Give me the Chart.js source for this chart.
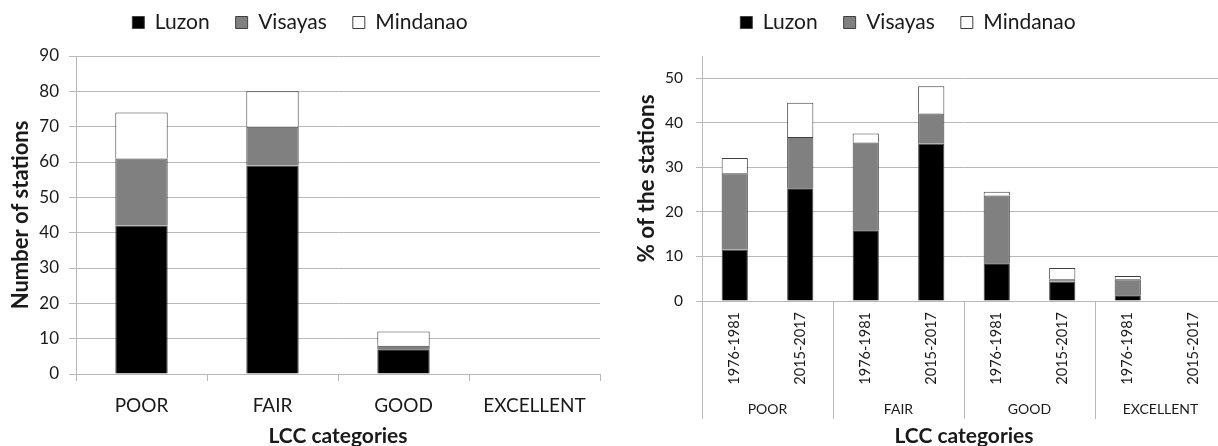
<!DOCTYPE html>
<html>
<head>
<meta charset="utf-8">
<script src="https://cdn.jsdelivr.net/npm/chart.js@4.4.1/dist/chart.umd.min.js"></script>
<style>
    html, body { margin: 0; padding: 0; background: #fff; }
    #wrap { position: relative; width: 1218px; height: 446px; overflow: hidden; }
    #box-count { position: absolute; left: 0; top: 0; width: 609px; height: 446px; }
    #box-pct { position: absolute; left: 590px; top: 0; width: 636px; height: 446px; }
</style>
</head>
<body>
<div id="wrap">
    <div id="box-count"><canvas id="chart-count"></canvas></div>
    <div id="box-pct"><canvas id="chart-pct"></canvas></div>
</div>
<script>
const regions = ['Luzon', 'Visayas', 'Mindanao'];
const categories = ['POOR', 'FAIR', 'GOOD', 'EXCELLENT'];
const periods = ['1976-1981', '2015-2017'];

// left: number of stations per LCC category
const countLuzon = [42, 59, 7, 0];
const countVisayas = [19, 11, 1, 0];
const countMindanao = [13, 10, 4, 0];

// right: % of stations, two periods per category
const pctLuzon = [11.5, 25.3, 15.9, 35.3, 8.5, 4.4, 1.3, 0];
const pctVisayas = [17.2, 11.5, 19.7, 6.8, 15.2, 0.5, 3.6, 0];
const pctMindanao = [3.4, 7.7, 2.0, 6.1, 0.8, 2.5, 0.7, 0];

const fills = ['#000000', '#808080', '#ffffff'];
const edge = '#404040';
const gridGrey = '#b8b8b8';
const textCol = '#1a1a1a';

Chart.defaults.font.family = "Lato, 'Open Sans', sans-serif";
Chart.defaults.color = textCol;
Chart.defaults.animation = false;

function datasets(series) {
    return series.map(function (data, i) {
        return {
            label: regions[i],
            data: data,
            backgroundColor: fills[i],
            borderColor: edge,
            borderWidth: 1,
            barPercentage: 0.4,
            categoryPercentage: 1.0,
        };
    });
}

const legendTop = {
    display: true,
    position: 'top',
    labels: {
        color: textCol,
        boxWidth: 12,
        boxHeight: 12,
        padding: 26,
        font: { size: 21 },
    },
};

// extra room under the legend
const legendGap = {
    id: 'legendGap',
    beforeInit(chart) {
        const fit = chart.legend.fit;
        chart.legend.fit = function () {
            fit.bind(chart.legend)();
            this.height += 13;
        };
    },
};

const titleFont = { size: 21, weight: 'bold', lineHeight: 1.0 };

// left chart
new Chart(document.getElementById('chart-count'), {
    type: 'bar',
    data: {
        labels: categories,
        datasets: datasets([countLuzon, countVisayas, countMindanao]),
    },
    plugins: [legendGap],
    options: {
        responsive: true,
        maintainAspectRatio: false,
        layout: { padding: { left: 0, right: 9, top: -14, bottom: 0 } },
        plugins: { legend: legendTop, tooltip: { enabled: false } },
        scales: {
            x: {
                stacked: true,
                offset: true,
                grid: { offset: true, drawOnChartArea: false, color: gridGrey, tickLength: 7 },
                border: { color: gridGrey },
                ticks: { font: { size: 19 }, padding: 13, color: textCol },
                title: { display: true, text: 'LCC categories', font: titleFont, padding: { top: 0, bottom: -1 } },
                afterFit: function (s) { s.height = 72; },
            },
            y: {
                stacked: true,
                min: 0,
                max: 90,
                ticks: { stepSize: 10, font: { size: 17 }, padding: 10, color: textCol },
                grid: { color: gridGrey, tickLength: 7 },
                border: { color: gridGrey },
                title: { display: true, text: 'Number of stations', font: { size: 22, weight: 'bold', lineHeight: 1.0 }, padding: { top: 10, bottom: 0 } },
                afterFit: function (s) { s.width = 76; },
            },
        },
    },
});

// separators between the category groups below the right chart
const groupLines = {
    id: 'groupLines',
    afterDraw(chart) {
        const x = chart.scales.x;
        const x2 = chart.scales.x2;
        const ctx = chart.ctx;
        const y0 = chart.chartArea.bottom;
        const y1 = x2.top + 30;
        ctx.save();
        ctx.strokeStyle = gridGrey;
        ctx.lineWidth = 1;
        for (let g = 0; g < categories.length; g++) {
            let px;
            if (g === 0) {
                px = chart.chartArea.left;
            } else {
                const i = g * periods.length;
                px = (x.getPixelForValue(i - 1) + x.getPixelForValue(i)) / 2;
            }
            px = Math.round(px) + 0.5;
            ctx.beginPath();
            ctx.moveTo(px, y0);
            ctx.lineTo(px, y1);
            ctx.stroke();
        }
        ctx.restore();
    },
};

const periodLabels = [];
categories.forEach(function () {
    periods.forEach(function (p) { periodLabels.push(p); });
});

new Chart(document.getElementById('chart-pct'), {
    type: 'bar',
    data: {
        labels: periodLabels,
        datasets: datasets([pctLuzon, pctVisayas, pctMindanao]),
    },
    plugins: [legendGap, groupLines],
    options: {
        responsive: true,
        maintainAspectRatio: false,
        layout: { padding: { left: 0, right: 0, top: -14, bottom: 0 } },
        plugins: { legend: legendTop, tooltip: { enabled: false } },
        scales: {
            x: {
                stacked: true,
                offset: true,
                grid: { display: false, tickLength: 8 },
                border: { color: gridGrey },
                ticks: { font: { size: 14.5 }, minRotation: 90, maxRotation: 90, padding: 3, color: textCol, autoSkip: false },
                afterFit: function (s) { s.height = 88; },
            },
            x2: {
                type: 'category',
                labels: categories,
                position: 'bottom',
                offset: true,
                grid: { display: false, drawTicks: false },
                border: { display: false },
                ticks: { font: { size: 14 }, padding: 12, color: textCol },
                title: { display: true, text: 'LCC categories', font: titleFont, padding: { top: 0, bottom: -1 } },
                afterFit: function (s) { s.height = 57; },
            },
            y: {
                stacked: true,
                min: 0,
                max: 55,
                ticks: {
                    stepSize: 10,
                    font: { size: 15.5 },
                    padding: 13,
                    color: textCol,
                    callback: function (v) { return v % 10 === 0 ? v : ''; },
                },
                grid: {
                    color: function (c) { return c.tick && c.tick.value % 10 === 0 ? gridGrey : 'rgba(0,0,0,0)'; },
                    tickLength: 6,
                },
                border: { color: gridGrey },
                title: { display: true, text: '% of the stations', font: { size: 22.5, weight: 'bold', lineHeight: 1.0 }, padding: { top: 45, bottom: 0 } },
                afterFit: function (s) { s.width = 112; },
            },
        },
    },
});
</script>
</body>
</html>
